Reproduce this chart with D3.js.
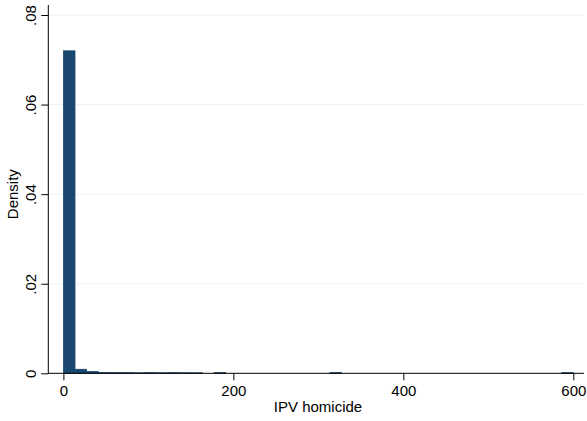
<!DOCTYPE html>
<html><head><meta charset="utf-8">
<script src="https://cdn.jsdelivr.net/npm/d3@7"></script>
<style>body{margin:0;background:#fff}svg{display:block}text{font-family:"Liberation Sans",Arial,sans-serif;fill:#000}</style>
</head><body><svg id="c" width="587" height="421"></svg>
<script>
// Histogram: 44 bins from 0 to 600
const xMin = 0, xMax = 600, nBins = 44;
const densities = [
  0.0720, 0.0009, 0.0004, 0.00018, 0.00015, 0.00015, 0.00012, 0.00015, 0.00012, 0.00015, 0.00012, 0.00012,
  0, 0.00015, 0, 0, 0, 0, 0, 0, 0, 0, 0, 0.00015,
  0, 0, 0, 0, 0, 0, 0, 0, 0, 0, 0, 0, 0, 0, 0, 0, 0, 0, 0, 0.00015
];
const xTicks = [0, 200, 400, 600];
const yTicks = [0, 0.02, 0.04, 0.06, 0.08];
const yTickLabels = ["0", ".02", ".04", ".06", ".08"];
const xTitle = "IPV homicide", yTitle = "Density";

const svg = d3.select("#c");
const x = d3.scaleLinear().domain([0, 600]).range([63.4, 573.3]);
const y = d3.scaleLinear().domain([0, 0.08]).range([373.3, 15]);
const binW = (xMax - xMin) / nBins;
const bins = densities.map((d, i) => ({x0: xMin + i * binW, x1: xMin + (i + 1) * binW, d}));

// gridlines
svg.append("g").selectAll("line").data(yTicks.slice(1)).join("line")
  .attr("x1", 48.5).attr("x2", 584).attr("y1", d => y(d)).attr("y2", d => y(d))
  .attr("stroke", "#eaf2f3").attr("stroke-width", 1);

// bars
svg.append("g").selectAll("rect").data(bins.filter(b => b.d > 0)).join("rect")
  .attr("x", b => x(b.x0)).attr("width", b => x(b.x1) - x(b.x0))
  .attr("y", b => y(b.d)).attr("height", b => y(0) - y(b.d))
  .attr("fill", "#1a476f").attr("stroke", "#1a476f").attr("stroke-width", 0.8);

// x axis
const xa = svg.append("g").attr("transform", `translate(0,${y(0)})`)
  .call(d3.axisBottom(x).tickValues(xTicks).tickSize(7).tickPadding(4).tickFormat(d3.format("d")));
xa.select(".domain").remove();
xa.append("line").attr("x1", 48).attr("x2", 584).attr("stroke", "#000").attr("stroke-width", 1);
xa.selectAll(".tick line").attr("stroke", "#000");
xa.selectAll(".tick text").attr("font-size", 15).attr("dy", null).attr("y", 22.7);

// y axis
const ya = svg.append("g").attr("transform", "translate(48.3,0)")
  .call(d3.axisLeft(y).tickValues(yTicks).tickSize(7).tickFormat((d, i) => yTickLabels[i]));
ya.select(".domain").remove();
ya.append("line").attr("y1", 5).attr("y2", y(0)).attr("stroke", "#000").attr("stroke-width", 1);
ya.selectAll(".tick line").attr("stroke", "#000");
ya.selectAll(".tick text").attr("font-size", 15).attr("x", null).attr("dy", null)
  .attr("text-anchor", "middle")
  .attr("transform", "translate(-12.8,0) rotate(-90)");

// titles
svg.append("text").attr("x", 318).attr("y", 412).attr("text-anchor", "middle")
  .attr("font-size", 15).text(xTitle);
svg.append("text").attr("transform", `translate(17.5,${y(0.04)}) rotate(-90)`)
  .attr("text-anchor", "middle").attr("font-size", 15).text(yTitle);
</script></body></html>
